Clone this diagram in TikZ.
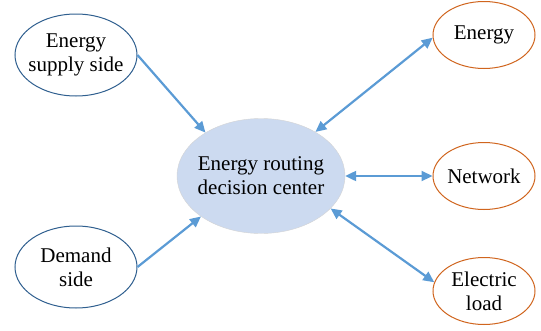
\documentclass[tikz,border=0pt]{standalone}
\usepackage{fontspec}
\setmainfont{Liberation Serif}
\usetikzlibrary{arrows.meta, positioning, shapes.geometric}
\definecolor{linkblue}{HTML}{5B9BD5}
\definecolor{sideblue}{HTML}{2F5F8F}
\definecolor{sinkorange}{HTML}{D0651E}
\definecolor{hubfill}{HTML}{CCDAF0}
\definecolor{hubedge}{HTML}{D4D4D4}

\begin{document}
\begin{tikzpicture}[on grid, >={Triangle[length=11pt,width=10pt]},
    every node/.style={font=\fontsize{21}{24}\selectfont, align=center, inner sep=-10pt},
    side/.style={ellipse, draw=sideblue, line width=1pt, fill=white, minimum width=122pt, minimum height=82pt},
    sink/.style={ellipse, draw=sinkorange, line width=1pt, fill=white, minimum width=102pt, minimum height=67pt},
    link/.style={draw=linkblue, line width=2.2pt}]
    \useasboundingbox (-261pt,176pt) rectangle (280pt,-154pt);

    \node[ellipse, draw=hubedge, fill=hubfill, minimum width=168pt, minimum height=115pt] (Router) {Energy routing\\decision center};

    \node[side, above left=121pt and 185pt of Router] (Supply Side) {Energy\\supply side};
    \node[side, below left=91pt and 185pt of Router]  (Demand Side) {Demand\\side};

    \node[sink, above right=141pt and 223pt of Router] (Energy)  {Energy};
    \node[sink, right=223pt of Router]                 (Network) {Network};
    \node[sink, below right=115pt and 223pt of Router] (Load)    {Electric\\load};

    \draw[link, ->]  (Supply Side.east) -- (Router.142);
    \draw[link, ->]  (Demand Side.east) -- (Router.214);
    \draw[link, <->] (Router.39)  -- (Energy.183);
    \draw[link, <->] (Router.east) -- (Network.west);
    \draw[link, <->] (Router.-25) -- (Load.170);
\end{tikzpicture}
\end{document}
